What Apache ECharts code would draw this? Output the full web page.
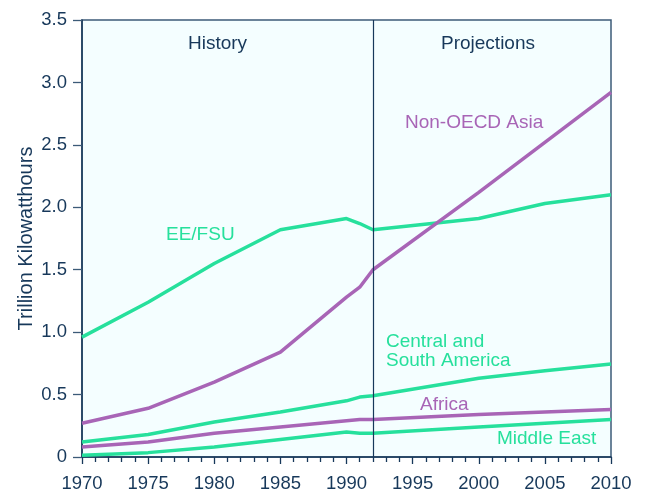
<!DOCTYPE html>
<html>
<head>
<meta charset="utf-8">
<script src="https://cdn.jsdelivr.net/npm/echarts@6/dist/echarts.min.js"></script>
<style>
  html, body { margin: 0; padding: 0; background: #fff; }
  #chart { width: 645px; height: 493px; }
</style>
</head>
<body>
<div id="chart"></div>
<script>
// years shared by every series
const years = [1970, 1975, 1980, 1985, 1990, 1991, 1992, 2000, 2005, 2010];
const eeFsu = [0.96, 1.24, 1.55, 1.82, 1.91, 1.87, 1.82, 1.91, 2.03, 2.10];
const nonOecdAsia = [0.27, 0.39, 0.60, 0.84, 1.28, 1.36, 1.50, 2.12, 2.52, 2.92];
const centralSouthAmerica = [0.12, 0.18, 0.28, 0.36, 0.45, 0.48, 0.49, 0.63, 0.69, 0.745];
const africa = [0.08, 0.12, 0.19, 0.24, 0.29, 0.30, 0.30, 0.34, 0.36, 0.38];
const middleEast = [0.015, 0.035, 0.08, 0.14, 0.20, 0.19, 0.19, 0.24, 0.27, 0.30];
const splitYear = 1992;

const GREEN = "#26e09c";
const PURPLE = "#a865b6";
const NAVY = "#17385a";
const FONT = "Liberation Sans";

const pairs = (vals) => years.map((y, i) => [y, vals[i]]);

const lineSeries = (name, vals, color) => ({
  name: name,
  type: "line",
  data: pairs(vals),
  symbol: "none",
  lineStyle: { color: color, width: 3.5 },
  itemStyle: { color: color },
  z: 3,
});

const chart = echarts.init(document.getElementById("chart"));
const series = [
  lineSeries("EE/FSU", eeFsu, GREEN),
  lineSeries("Non-OECD Asia", nonOecdAsia, PURPLE),
  lineSeries("Central and South America", centralSouthAmerica, GREEN),
  lineSeries("Africa", africa, PURPLE),
  lineSeries("Middle East", middleEast, GREEN),
];
// history / projections divider
series[0].markLine = {
  silent: true,
  symbol: ["none", "none"],
  label: { show: false },
  lineStyle: { color: NAVY, width: 1.2, type: "solid" },
  data: [{ xAxis: splitYear }],
};

const txt = (text, x, y, color) => ({
  type: "text",
  left: x,
  top: y,
  style: {
    text: text,
    fill: color,
    font: "19px " + FONT,
    lineHeight: 19,
  },
});

chart.setOption({
  animation: false,
  grid: {
    left: 82,
    right: 34,
    top: 20,
    bottom: 36,
    show: true,
    backgroundColor: "#f4feff",
    borderColor: "#3c5b78",
    borderWidth: 1.5,
  },
  xAxis: {
    type: "value",
    min: 1970,
    max: 2010,
    interval: 5,
    axisLine: { show: true, lineStyle: { color: NAVY, width: 1.5 } },
    axisTick: { show: true, length: 7, lineStyle: { color: NAVY, width: 1.3 } },
    minorTick: { show: true, splitNumber: 5, length: 5, lineStyle: { color: NAVY, width: 1.3 } },
    splitLine: { show: false },
    axisLabel: {
      color: NAVY,
      fontSize: 18.5,
      fontFamily: FONT,
      margin: 17,
      formatter: (v) => String(v),
    },
  },
  yAxis: {
    type: "value",
    min: 0,
    max: 3.5,
    interval: 0.5,
    name: "Trillion Kilowatthours",
    nameLocation: "middle",
    nameGap: 46,
    nameMoveOverlap: false,
    nameTextStyle: { color: NAVY, fontSize: 20, fontFamily: FONT },
    axisLine: { show: true, lineStyle: { color: NAVY, width: 1.5 } },
    axisTick: { show: true, length: 9, lineStyle: { color: "#3c5b78", width: 1.3 } },
    splitLine: { show: false },
    axisLabel: {
      color: NAVY,
      fontSize: 18.5,
      fontFamily: FONT,
      margin: 15,
      formatter: (v) => (v === 0 ? "0" : v.toFixed(1)),
    },
  },
  graphic: [
    txt("History", 188, 34, NAVY),
    txt("Projections", 441, 34, NAVY),
    txt("EE/FSU", 166, 225, GREEN),
    txt("Non-OECD Asia", 405, 113, PURPLE),
    txt("Central and\nSouth America", 386, 332, GREEN),
    txt("Africa", 420, 395, PURPLE),
    txt("Middle East", 497, 429, GREEN),
  ],
  series: series,
});
</script>
</body>
</html>
